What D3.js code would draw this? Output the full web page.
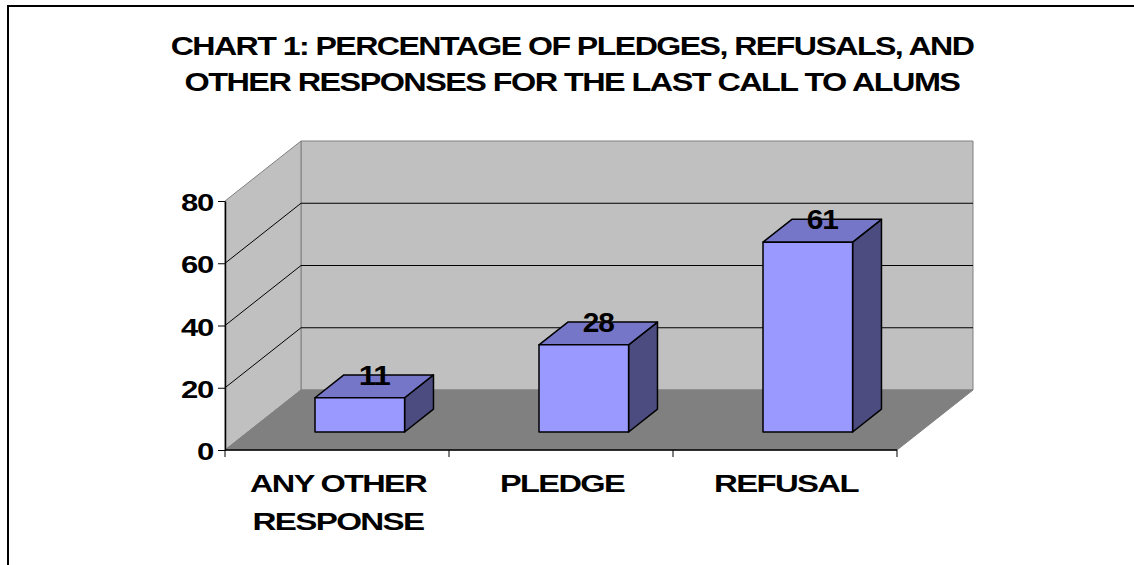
<!DOCTYPE html>
<html>
<head>
<meta charset="utf-8">
<script src="https://cdn.jsdelivr.net/npm/d3@7"></script>
<style>
  html, body { margin: 0; padding: 0; background: #fff; }
  svg { display: block; }
  text { font-family: "Liberation Sans", Arial, sans-serif; font-weight: bold; fill: #000; }
</style>
</head>
<body>
<svg id="chart" width="1134" height="565"></svg>
<script>
// Chart data
const titleLines = [
  "CHART 1: PERCENTAGE OF PLEDGES, REFUSALS, AND",
  "OTHER RESPONSES FOR THE LAST CALL TO ALUMS"
];
const categories = ["ANY OTHER RESPONSE", "PLEDGE", "REFUSAL"];
const categoryLines = [["ANY OTHER", "RESPONSE"], ["PLEDGE"], ["REFUSAL"]];
const values = [11, 28, 61];
const yTicks = [0, 20, 40, 60, 80];

const svg = d3.select("#chart");

// Plot geometry: front plane and oblique depth offset
const plot = { left: 225, right: 897, top: 201, bottom: 450 };
const DX = 76, DY = -60;          // full depth of the box
const zFront = 0.30, zBack = 0.68; // bar depth span as a fraction of the box depth

const x = d3.scaleBand().domain(categories).range([plot.left, plot.right]).padding(0);
const y = d3.scaleLinear().domain([0, 80]).range([plot.bottom, plot.top]);
const barW = x.bandwidth() * 0.4;

const colors = {
  wall: "#c0c0c0", floor: "#808080", edge: "#808080",
  front: "#9999ff", top: "#7676c8", side: "#4c4c80"
};

// Outer frame (only the top and left edges fall inside the view)
svg.append("rect")
  .attr("x", 8).attr("y", 6).attr("width", 1300).attr("height", 700)
  .attr("fill", "none").attr("stroke", "#000").attr("stroke-width", 2);

const pts = a => a.map(p => p.join(",")).join(" ");

// Back wall
svg.append("polygon")
  .attr("points", pts([
    [plot.left + DX, y(80) + DY], [plot.right + DX, y(80) + DY],
    [plot.right + DX, y(0) + DY], [plot.left + DX, y(0) + DY]
  ]))
  .attr("fill", colors.wall).attr("stroke", colors.edge).attr("stroke-width", 1);

// Left side wall
svg.append("polygon")
  .attr("points", pts([
    [plot.left, y(0)], [plot.left, y(80)],
    [plot.left + DX, y(80) + DY], [plot.left + DX, y(0) + DY]
  ]))
  .attr("fill", colors.wall).attr("stroke", colors.edge).attr("stroke-width", 1);

// Gridlines on side and back walls
const grid = svg.append("g").attr("stroke", "#000").attr("stroke-width", 1).attr("fill", "none");
yTicks.filter(v => v > 0 && v < 80).forEach(v => {
  grid.append("polyline")
    .attr("points", pts([
      [plot.left, y(v)], [plot.left + DX, y(v) + DY], [plot.right + DX, y(v) + DY]
    ]));
});

// Floor
svg.append("polygon")
  .attr("points", pts([
    [plot.left, y(0)], [plot.right, y(0)],
    [plot.right + DX, y(0) + DY], [plot.left + DX, y(0) + DY]
  ]))
  .attr("fill", colors.floor).attr("stroke", colors.floor).attr("stroke-width", 1);

// 3D bars
const bars = svg.append("g")
  .attr("stroke", "#000").attr("stroke-width", 1.5).attr("stroke-linejoin", "round");

categories.forEach((c, i) => {
  const cx = x(c) + x.bandwidth() / 2;
  const x0 = cx - barW / 2 + DX * zFront, x1 = cx + barW / 2 + DX * zFront;
  const yb = y(0) + DY * zFront, yt = y(values[i]) + DY * zFront;
  const ddx = DX * (zBack - zFront), ddy = DY * (zBack - zFront);
  const g = bars.append("g");
  g.append("polygon").attr("fill", colors.side)
    .attr("points", pts([[x1, yb], [x1, yt], [x1 + ddx, yt + ddy], [x1 + ddx, yb + ddy]]));
  g.append("polygon").attr("fill", colors.top)
    .attr("points", pts([[x0, yt], [x1, yt], [x1 + ddx, yt + ddy], [x0 + ddx, yt + ddy]]));
  g.append("rect").attr("fill", colors.front)
    .attr("x", x0).attr("y", yt).attr("width", x1 - x0).attr("height", yb - yt);
});

// Text helper: tightly spaced, horizontally widened lettering fitted to a width
function label(tx, ty, str, size, anchor, width, spacing) {
  const g = svg.append("g");
  const t = g.append("text").attr("x", 0).attr("y", 0)
    .attr("font-size", size).attr("letter-spacing", spacing)
    .attr("text-anchor", anchor).text(str);
  const len = t.node().getComputedTextLength();
  const sx = width / len;
  g.attr("transform", `translate(${tx},${ty}) scale(${sx},1)`);
  return g;
}

// Value labels on the bar tops
categories.forEach((c, i) => {
  const zMid = (zFront + zBack) / 2;
  const cx = x(c) + x.bandwidth() / 2 + DX * zMid;
  const cy = y(values[i]) + DY * zMid;
  label(cx, cy - 1.5, String(values[i]), 27, "middle", 31, -1);
});

// Y axis
const yAxis = svg.append("g")
  .attr("transform", `translate(${plot.left},0)`)
  .call(d3.axisLeft(y).tickValues(yTicks).tickSize(7).tickSizeOuter(0).tickFormat(""));
yAxis.select(".domain").attr("stroke", "#000").attr("stroke-width", 1.5);
yAxis.selectAll(".tick line").attr("stroke", "#000").attr("stroke-width", 1);
yTicks.forEach(v => {
  const s = String(v);
  label(213, y(v) + 10, s, 24, "end", s.length * 16, -1);
});

// X axis with ticks at category boundaries
const xAxis = svg.append("g");
xAxis.append("line")
  .attr("x1", plot.left).attr("x2", plot.right).attr("y1", y(0)).attr("y2", y(0))
  .attr("stroke", "#000").attr("stroke-width", 1.5);
const bounds = categories.map(c => x(c)).concat([x(categories[categories.length - 1]) + x.bandwidth()]);
bounds.forEach(b => {
  xAxis.append("line")
    .attr("x1", b).attr("x2", b).attr("y1", y(0)).attr("y2", y(0) + 7)
    .attr("stroke", "#000").attr("stroke-width", 1);
});
// Fitted widths of each category label line
const categoryLineWidths = [[176, 171], [124], [144]];
categories.forEach((c, i) => {
  const cx = x(c) + x.bandwidth() / 2 + 1;
  categoryLines[i].forEach((line, j) => {
    label(cx, y(0) + 42 + j * 38, line, 24, "middle", categoryLineWidths[i][j], -1.2);
  });
});

// Title
const titleWidths = [803, 775];
titleLines.forEach((t, i) => {
  label(572, 54.5 + i * 36.5, t, 25, "middle", titleWidths[i], -1.2);
});
</script>
</body>
</html>
